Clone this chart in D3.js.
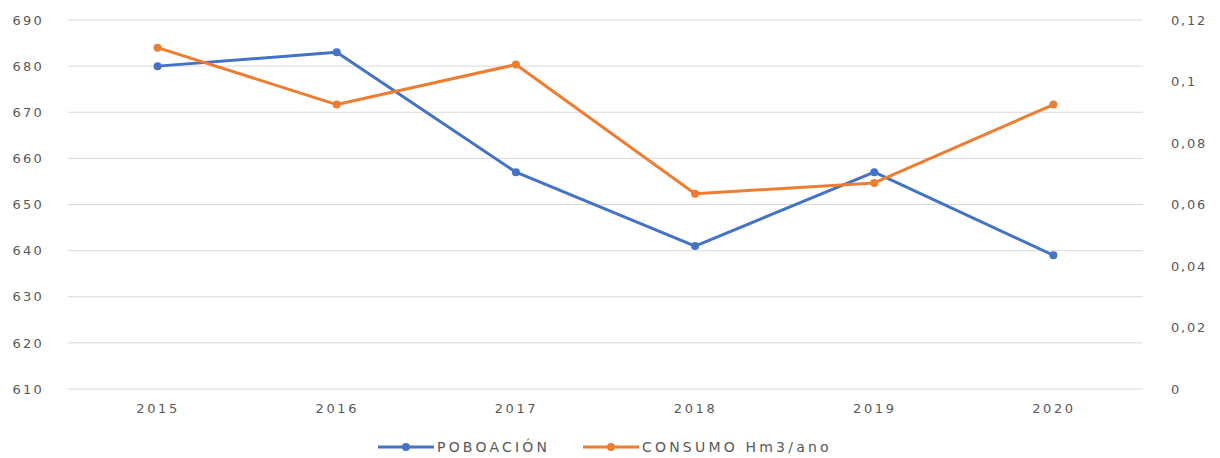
<!DOCTYPE html>
<html>
<head>
<meta charset="utf-8">
<script src="https://cdn.jsdelivr.net/npm/d3@7/dist/d3.min.js"></script>
<style>
  body { margin: 0; background: #fff; }
  text { font-family: "DejaVu Sans", sans-serif; fill: #595959; }
</style>
</head>
<body>
<div id="chart"></div>
<script>
// data
const years = ['2015', '2016', '2017', '2018', '2019', '2020'];
const poboacion = [680, 683, 657, 641, 657, 639];
const consumo = [0.111, 0.0925, 0.1055, 0.0635, 0.067, 0.0925];
const leftTicks = [610, 620, 630, 640, 650, 660, 670, 680, 690];
const rightTicks = [0, 0.02, 0.04, 0.06, 0.08, 0.1, 0.12];
const seriesNames = ['POBOACIÓN', 'CONSUMO Hm3/ano'];
const colors = ['#4472C4', '#ED7D31'];

const width = 1220, height = 458;
const plotLeft = 68, plotRight = 1143, plotTop = 20, plotBottom = 389;

const svg = d3.select('#chart').append('svg')
  .attr('width', width)
  .attr('height', height);

const x = d3.scalePoint()
  .domain(years)
  .range([plotLeft, plotRight])
  .padding(0.5);

const yL = d3.scaleLinear().domain([610, 690]).range([plotBottom, plotTop]);
const yR = d3.scaleLinear().domain([0, 0.12]).range([plotBottom, plotTop]);

// gridlines
svg.append('g')
  .selectAll('line')
  .data(leftTicks)
  .join('line')
  .attr('x1', plotLeft).attr('x2', plotRight)
  .attr('y1', d => yL(d)).attr('y2', d => yL(d))
  .attr('stroke', '#d9d9d9')
  .attr('stroke-width', 1);

// left axis
const axL = svg.append('g')
  .attr('transform', 'translate(' + 44 + ',0)')
  .call(d3.axisLeft(yL).tickValues(leftTicks).tickSize(0).tickPadding(0));
axL.select('.domain').remove();
axL.selectAll('text').style('font-size', '13px').style('letter-spacing', '2.2px').attr('fill', '#595959');

// right axis
const fmt = d => String(+d.toFixed(2)).replace('.', ',');
const axR = svg.append('g')
  .attr('transform', 'translate(' + 1171 + ',0)')
  .call(d3.axisRight(yR).tickValues(rightTicks).tickFormat(fmt).tickSize(0).tickPadding(0));
axR.select('.domain').remove();
axR.selectAll('text').style('font-size', '13px').style('letter-spacing', '1.8px').attr('fill', '#595959');

// x axis
const axX = svg.append('g')
  .attr('transform', 'translate(0,' + (plotBottom + 15) + ')')
  .call(d3.axisBottom(x).tickSize(0).tickPadding(0));
axX.select('.domain').remove();
axX.selectAll('text').style('font-size', '13px').style('letter-spacing', '2.6px').attr('fill', '#595959');

// lines
const series = [
  { vals: poboacion, y: yL, color: colors[0] },
  { vals: consumo, y: yR, color: colors[1] }
];

series.forEach(s => {
  const line = d3.line()
    .x((d, i) => x(years[i]))
    .y(d => s.y(d));
  svg.append('path')
    .datum(s.vals)
    .attr('fill', 'none')
    .attr('stroke', s.color)
    .attr('stroke-width', 3)
    .attr('stroke-linejoin', 'round')
    .attr('d', line);
  svg.append('g')
    .selectAll('circle')
    .data(s.vals)
    .join('circle')
    .attr('cx', (d, i) => x(years[i]))
    .attr('cy', d => s.y(d))
    .attr('r', 4)
    .attr('fill', s.color);
});

// legend
const legendX = [378, 583];
const legend = svg.append('g');
seriesNames.forEach((name, i) => {
  const g = legend.append('g').attr('transform', 'translate(' + legendX[i] + ',447)');
  g.append('line')
    .attr('x1', 0).attr('x2', 56)
    .attr('stroke', colors[i]).attr('stroke-width', 3);
  g.append('circle').attr('cx', 28).attr('r', 4).attr('fill', colors[i]);
  g.append('text')
    .attr('x', 59).attr('dy', '0.35em')
    .style('font-size', '14px')
    .style('letter-spacing', '3.2px')
    .text(name);
});
</script>
</body>
</html>
